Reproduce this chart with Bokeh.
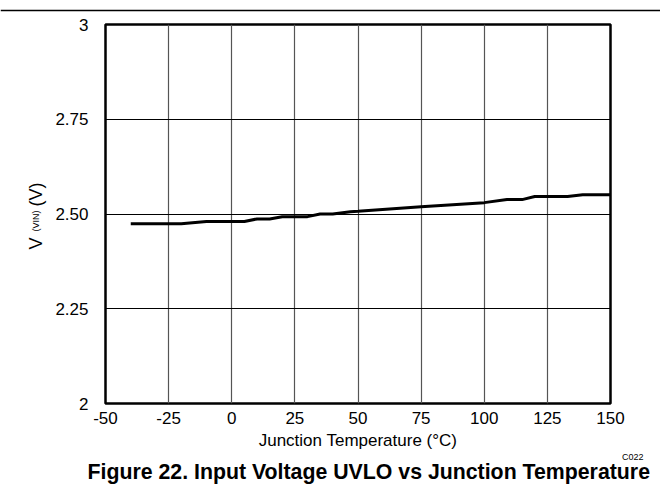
import math
from bokeh.plotting import figure
from bokeh.models import FixedTicker, Title, Span
from bokeh.layouts import column, row
from bokeh.core.properties import value
from bokeh.embed import file_html
from bokeh.resources import INLINE

# Data
temp_c = [-40, -20, -10, 5, 10, 15, 20, 30, 35, 40, 47, 50, 75, 100, 109, 115, 120, 133, 139, 150]
v_uvlo = [2.474, 2.474, 2.480, 2.480, 2.487, 2.487, 2.493, 2.493, 2.500, 2.500,
          2.506, 2.507, 2.519, 2.530, 2.538, 2.538, 2.546, 2.546, 2.551, 2.551]

x_ticks = [-50, -25, 0, 25, 50, 75, 100, 125, 150]
x_tick_labels = {-50: "-50", -25: "-25", 0: "0", 25: "25", 50: "50", 75: "75",
                 100: "100", 125: "125", 150: "150"}
y_ticks = [2.0, 2.25, 2.5, 2.75, 3.0]
y_tick_labels = {2.0: "2", 2.25: "2.25", 2.5: "2.50", 2.75: "2.75", 3.0: "3"}

FONT = "Liberation Sans"
HDR_H = 13
TOP = 11
BOTTOM = 82
FRAME_W, FRAME_H = 505, 379
LAB_W = 52
P_H = TOP + FRAME_H + BOTTOM

p = figure(frame_width=FRAME_W, frame_height=FRAME_H, x_range=(-50, 150), y_range=(2.0, 3.0),
           output_backend="svg", toolbar_location=None,
           min_border_left=50, min_border_right=44, min_border_top=TOP, min_border_bottom=BOTTOM)
p.background_fill_color = "white"
p.border_fill_color = "white"
p.outline_line_color = "black"
p.outline_line_width = 2.5

p.line(temp_c, v_uvlo, line_color="black", line_width=3)

for ax in (p.xaxis[0], p.yaxis[0]):
    ax.axis_line_color = None
    ax.major_tick_line_color = None
    ax.minor_tick_line_color = None
    ax.major_label_text_font = FONT
    ax.major_label_text_font_size = "17px"
    ax.major_label_text_color = "black"

p.xaxis.ticker = FixedTicker(ticks=x_ticks)
p.yaxis.ticker = FixedTicker(ticks=y_ticks)
p.xaxis.major_label_overrides = x_tick_labels
p.yaxis.major_label_overrides = y_tick_labels
p.xaxis.major_label_standoff = 2
p.yaxis.major_label_standoff = 11

p.xaxis.axis_label = "Junction Temperature (°C)"
p.xaxis.axis_label_text_font = FONT
p.xaxis.axis_label_text_font_size = "17px"
p.xaxis.axis_label_text_font_style = "normal"
p.xaxis.axis_label_text_color = "black"
p.xaxis.axis_label_standoff = 4

p.xgrid.ticker = FixedTicker(ticks=x_ticks)
p.ygrid.ticker = FixedTicker(ticks=y_ticks)
p.xgrid.grid_line_color = "#555555"
p.xgrid.grid_line_width = 1.2
p.ygrid.grid_line_color = "black"
p.ygrid.grid_line_width = 1

p.add_layout(Title(text="C022", align="right", offset=-33, standoff=-5,
                   text_font=FONT, text_font_size="9px", text_font_style="normal",
                   text_color="black"), "below")
p.add_layout(Title(text="Figure 22. Input Voltage UVLO vs Junction Temperature",
                   align="left", offset=-18, standoff=-4,
                   text_font=FONT, text_font_size="21.3px", text_font_style="bold",
                   text_color="black"), "below")

# Side strip holding the rotated y-axis title with its subscript
ylab = figure(frame_width=LAB_W, frame_height=P_H, x_range=(0, LAB_W),
              y_range=(TOP + FRAME_H - P_H, TOP + FRAME_H),
              x_axis_type=None, y_axis_type=None,
              min_border_left=0, min_border_right=0, min_border_top=0, min_border_bottom=0,
              output_backend="svg", toolbar_location=None)
ylab.outline_line_color = None
ylab.grid.visible = False
ylab.text(x=[35], y=[165], text=["V"], angle=math.pi / 2,
          text_font=value(FONT), text_font_size="18px", text_color="black",
          text_align="left", text_baseline="alphabetic")
ylab.text(x=[35], y=[183], text=["(VIN)"], angle=math.pi / 2,
          text_font=value(FONT), text_font_size="9px", text_color="black",
          text_align="left", text_baseline="alphabetic")
ylab.text(x=[35], y=[208], text=["(V)"], angle=math.pi / 2,
          text_font=value(FONT), text_font_size="18px", text_color="black",
          text_align="left", text_baseline="alphabetic")

# Thin page-header rule above the chart
hdr = figure(frame_width=660, frame_height=HDR_H, x_range=(0, 1), y_range=(0, HDR_H),
             x_axis_type=None, y_axis_type=None,
             min_border_left=0, min_border_right=0, min_border_top=0, min_border_bottom=0,
             output_backend="svg", toolbar_location=None)
hdr.outline_line_color = None
hdr.grid.visible = False
hdr.add_layout(Span(location=HDR_H - 10, dimension="width", line_color="black", line_width=1.5))

layout = column(hdr, row(ylab, p, spacing=0), spacing=0)
open("out.html", "w").write(file_html(layout, INLINE))
